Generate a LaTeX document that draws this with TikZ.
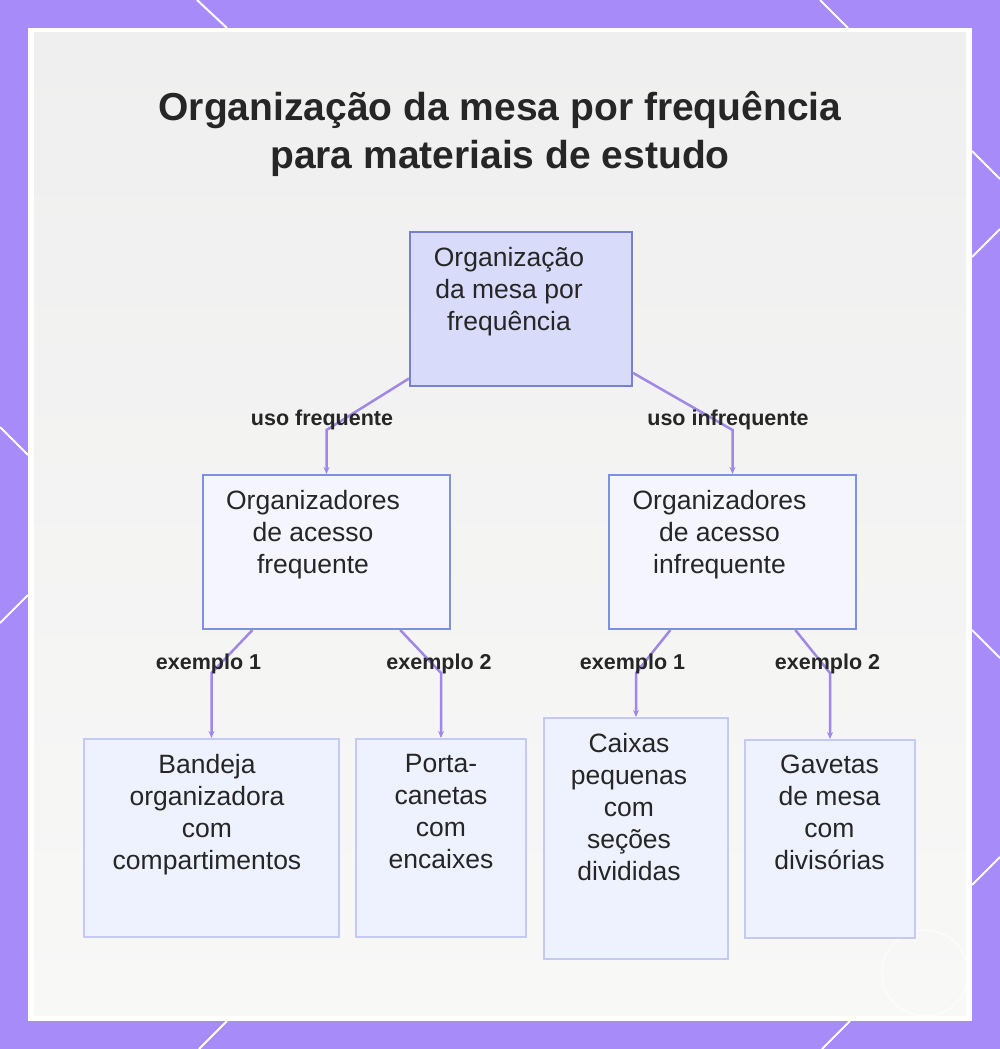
\documentclass[tikz,border=0pt]{standalone}
\usepackage{fontspec}
\setmainfont{Liberation Sans}
\usetikzlibrary{arrows.meta}
\definecolor{bgpurple}{HTML}{A78BF9}
\definecolor{panelTop}{HTML}{EFEFEF}
\definecolor{panelBot}{HTML}{F8F8F7}
\definecolor{edgeC}{HTML}{A088E6}
\definecolor{rootF}{HTML}{D9DBFB}
\definecolor{rootB}{HTML}{7A7FD6}
\definecolor{midF}{HTML}{F4F5FE}
\definecolor{midB}{HTML}{7C92E0}
\definecolor{leafF}{HTML}{EEF1FE}
\definecolor{leafB}{HTML}{C3CAF4}
\definecolor{txt}{HTML}{262626}
\begin{document}
\begin{tikzpicture}[x=1pt,y=-1pt,
  rootbox/.style={draw=rootB, fill=rootF, line width=2pt, inner sep=0pt},
  midbox/.style={draw=midB, fill=midF, line width=2pt, inner sep=0pt},
  leafbox/.style={draw=leafB, fill=leafF, line width=2pt, inner sep=0pt},
  boxtext/.style={font=\fontsize{26.5}{32}\selectfont, text=txt, align=center, inner sep=0pt, anchor=north},
  lbl/.style={font=\fontsize{21.5}{25}\selectfont\bfseries, text=txt, inner sep=0pt, anchor=base},
  conn/.style={draw=edgeC, line width=2.5pt, -{Stealth[length=7pt,width=6pt]}},
  diag/.style={draw=white, line width=2pt}]
\useasboundingbox (0,0) rectangle (1000,1049);
\fill[bgpurple] (0,0) rectangle (1000,1049);
\fill[white] (28,28) rectangle (972,1021);
\shade[top color=panelTop, bottom color=panelBot] (34,33) rectangle (966,1015);
% border diagonals
\draw[diag] (197,0) -- (227,28);
\draw[diag] (820,0) -- (848,28);
\draw[diag] (227,1021) -- (199,1049);
\draw[diag] (850,1021) -- (822,1049);
\draw[diag] (0,427) -- (28,455);
\draw[diag] (28,595) -- (0,623);
\draw[diag] (972,151) -- (1000,179);
\draw[diag] (972,257) -- (1000,229);
\draw[diag] (972,630) -- (1000,658);
\draw[diag] (972,885) -- (1000,857);
% watermark
\draw[white, line width=1pt, opacity=0.8] (925,973) circle (43);
% title
\node[font=\fontsize{39}{48}\selectfont\bfseries, text=txt, align=center, anchor=base, inner sep=0pt] (title) at (500,168)
  {Organização da mesa por frequência\\para materiais de estudo};
% boxes
\node[rootbox, minimum width=222pt, minimum height=154pt] (root) at (521,309) {};
\node[midbox, minimum width=247pt, minimum height=154pt] (midL) at (326.5,552) {};
\node[midbox, minimum width=247pt, minimum height=154pt] (midR) at (732.5,552) {};
\node[leafbox, minimum width=255pt, minimum height=198pt] (band) at (211.5,838) {};
\node[leafbox, minimum width=170pt, minimum height=198pt] (porta) at (441,838) {};
\node[leafbox, minimum width=184pt, minimum height=241pt] (caix) at (636,838.5) {};
\node[leafbox, minimum width=170pt, minimum height=198pt] (gav) at (830,839) {};
% knees
\coordinate (k1) at (midL.north |- 0,430);
\coordinate (k2) at (midR.north |- 0,430);
\coordinate (k3) at (band.north |- 0,673);
\coordinate (k4) at (porta.north |- 0,673);
\coordinate (k5) at (caix.north |- 0,673);
\coordinate (k6) at (gav.north |- 0,673);
% connectors
\draw[conn] (root) -- (k1) -- (midL.north);
\draw[conn] (root) -- (k2) -- (midR.north);
\draw[conn] (midL) -- (k3) -- (band.north);
\draw[conn] (midL) -- (k4) -- (porta.north);
\draw[conn] (midR) -- (k5) -- (caix.north);
\draw[conn] (midR) -- (k6) -- (gav.north);
% labels
\node[lbl] (l1) at (322,425) {uso frequente};
\node[lbl] (l2) at (728,425) {uso infrequente};
\node[lbl] (l3) at (208.5,669) {exemplo 1};
\node[lbl] (l4) at (439,669) {exemplo 2};
\node[lbl] (l5) at (632.5,669) {exemplo 1};
\node[lbl] (l6) at (827.5,669) {exemplo 2};
% box texts
\node[boxtext] (rootT) at (509,247) {Organização\\da mesa por\\frequência};
\node[boxtext] (midLT) at (313,490) {Organizadores\\de acesso\\frequente};
\node[boxtext] (midRT) at (719.5,490) {Organizadores\\de acesso\\infrequente};
\node[boxtext] (bandT) at (207,754) {Bandeja\\organizadora\\com\\compartimentos};
\node[boxtext] (portaT) at (441,754) {Porta-\\canetas\\com\\encaixes};
\node[boxtext] (caixT) at (629,733) {Caixas\\pequenas\\com\\seções\\divididas};
\node[boxtext] (gavT) at (829.5,755) {Gavetas\\de mesa\\com\\divisórias};
\end{tikzpicture}
\end{document}
